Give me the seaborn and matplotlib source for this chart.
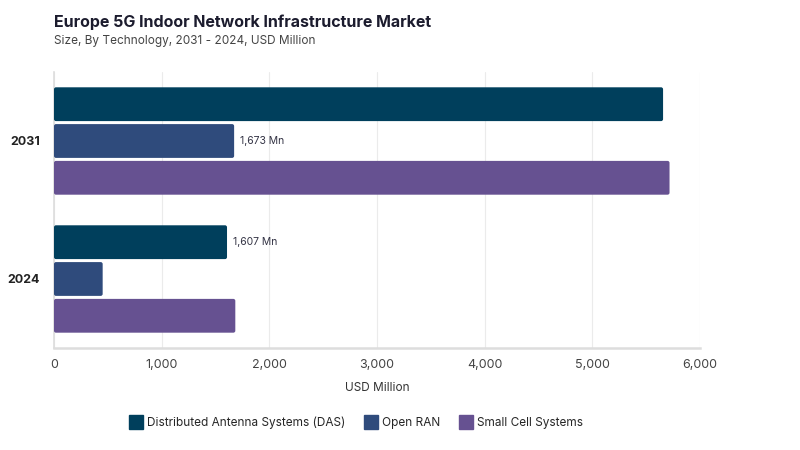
import matplotlib
matplotlib.use("Agg")
import matplotlib.pyplot as plt
import seaborn as sns
import pandas as pd
from matplotlib.patches import FancyBboxPatch, Patch
from matplotlib.lines import Line2D

years = ["2031", "2024"]
technologies = ["Distributed Antenna Systems (DAS)", "Open RAN", "Small Cell Systems"]
das = [5657, 1607]
open_ran = [1673, 452]
small_cell = [5717, 1684]
colors = ["#003f5c", "#2f4b7c", "#665191"]
x_ticks = [0, 1000, 2000, 3000, 4000, 5000, 6000]

rows = []
for tech, vals in zip(technologies, [das, open_ran, small_cell]):
    for y, v in zip(years, vals):
        rows.append({"Year": y, "Technology": tech, "Value": v})
df = pd.DataFrame(rows)

sns.set_theme(style="white")
plt.rcParams["font.family"] = ["Inter", "DejaVu Sans"]

fig = plt.figure(figsize=(8, 4.5), dpi=100)
ax = fig.add_axes([0.0675, 0.2267, 0.8075, 0.6133])

sns.barplot(data=df, y="Year", x="Value", hue="Technology", order=years,
            hue_order=technologies, palette=colors, orient="h", ax=ax,
            width=0.8, legend=False, saturation=1)

ax.set_xlim(0, 6000)
ax.set_ylim(1.5, -0.5)

# shrink bars slightly to leave gaps and round corners
px_x = 646 / 6000.0   # px per x-unit
px_y = 276 / 2.0      # px per y-unit
r_px = 2.0
rs = r_px / px_x
aspect = (r_px / px_y) / rs
old = list(ax.patches)
for p in old:
    x0, y0 = p.get_x(), p.get_y()
    w, h = p.get_width(), p.get_height()
    fc = p.get_facecolor()
    p.remove()
    gap = 3.0 / px_y
    nb = FancyBboxPatch((x0, y0 + gap / 2), w, h - gap,
                        boxstyle=f"round,pad=0,rounding_size={rs}",
                        mutation_aspect=aspect, facecolor=fc, edgecolor="none",
                        zorder=3)
    ax.add_patch(nb)

# value labels
bar_h = 0.8 / 3
ax.text(open_ran[0] + 55, 0, f"{open_ran[0]:,} Mn", va="center", ha="left",
        fontsize=7.5, color="#333344")
ax.text(das[1] + 55, 1 - bar_h, f"{das[1]:,} Mn", va="center", ha="left",
        fontsize=7.5, color="#333344")

ax.set_xticks(x_ticks)
ax.set_xticklabels([f"{t:,}" for t in x_ticks], fontsize=9, color="#444444")
ax.tick_params(axis="y", labelsize=9, length=0, pad=10)
for lbl in ax.get_yticklabels():
    lbl.set_fontweight("bold")
    lbl.set_color("#222222")
ax.tick_params(axis="x", length=0, pad=8)
ax.xaxis.grid(True, color="#ebebeb", linewidth=0.8, zorder=0)
ax.set_axisbelow(True)
ax.set_ylabel("")
ax.set_xlabel("USD Million", fontsize=8.5, color="#333333", labelpad=8)

for s in ["top", "right"]:
    ax.spines[s].set_visible(False)
ax.spines["left"].set_color("#dddddd")
ax.spines["left"].set_linewidth(1.2)
ax.spines["bottom"].set_color("#dddddd")
ax.spines["bottom"].set_linewidth(1.8)

fig.text(0.0675, 0.951, "Europe 5G Indoor Network Infrastructure Market",
         fontsize=11.5, fontweight="bold", color="#1c1c2e", va="center", ha="left")
fig.text(0.0675, 0.908, "Size, By Technology, 2031 - 2024, USD Million",
         fontsize=8.5, color="#444444", va="center", ha="left")

handles = [Line2D([0], [0], marker="s", color="none", markerfacecolor=c,
                  markeredgecolor=c, markersize=10, label=t)
           for c, t in zip(colors, technologies)]
fig.legend(handles=handles, loc="center", bbox_to_anchor=(0.445, 0.06), ncol=3,
           frameon=False, fontsize=8.5, handletextpad=0.3, columnspacing=1.6,
           handlelength=1.2)

fig.savefig("out.png", dpi=100)
